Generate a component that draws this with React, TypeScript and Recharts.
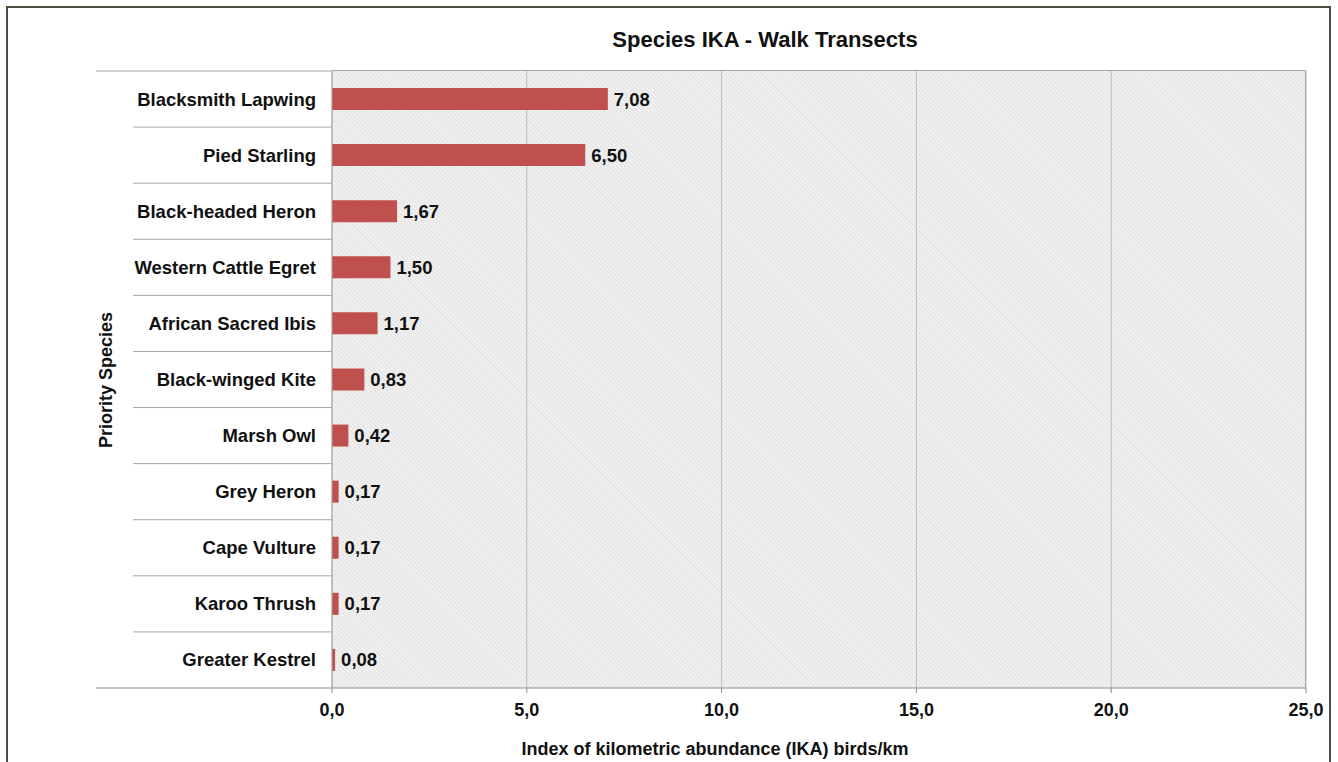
import * as React from "react";
import { BarChart, Bar, XAxis, YAxis, CartesianGrid, LabelList } from "recharts";

const species = [
  "Blacksmith Lapwing",
  "Pied Starling",
  "Black-headed Heron",
  "Western Cattle Egret",
  "African Sacred Ibis",
  "Black-winged Kite",
  "Marsh Owl",
  "Grey Heron",
  "Cape Vulture",
  "Karoo Thrush",
  "Greater Kestrel",
];
const ika = [7.08, 6.5, 1.67, 1.5, 1.17, 0.83, 0.42, 0.17, 0.17, 0.17, 0.08];
const xTicks = [0, 5, 10, 15, 20, 25];

const data = species.map((name, i) => ({ name, ika: ika[i] }));

const FONT = '"Liberation Sans", Arial, sans-serif';
const comma = (v: number, d: number) => v.toFixed(d).replace(".", ",");

// plot band size: 617px height / 11 categories
const BAND = 617 / species.length;

const SpeciesTick = (props: any) => {
  const { y, payload, index } = props;
  const last = index === species.length - 1;
  return (
    <g>
      {index === 0 && (
        <line x1={96} x2={332} y1={y - BAND / 2} y2={y - BAND / 2} stroke="#a6a6a6" />
      )}
      {!last && (
        <line x1={133} x2={332} y1={y + BAND / 2} y2={y + BAND / 2} stroke="#a6a6a6" />
      )}
      {last && (
        <line x1={96} x2={332} y1={y + BAND / 2} y2={y + BAND / 2} stroke="#8c8c8c" />
      )}
      <text
        x={316}
        y={y}
        dy={6.5}
        textAnchor="end"
        fontFamily={FONT}
        fontWeight="bold"
        fontSize={18.5}
        fill="#111"
      >
        {payload.value}
      </text>
    </g>
  );
};

export default function App() {
  return (
    <div style={{ position: "absolute", left: 0, top: 0, width: 1338, height: 762, background: "#fff", overflow: "hidden" }}>
      <svg width={0} height={0} style={{ position: "absolute" }}>
        <defs>
          <pattern id="hatch" width={3} height={3} patternUnits="userSpaceOnUse" patternTransform="rotate(-45)">
            <rect width={3} height={3} fill="#f1f1f1" />
            <line x1={0} y1={0} x2={0} y2={3} stroke="#d6d6d6" strokeWidth={1.2} />
          </pattern>
        </defs>
      </svg>
      <div
        style={{
          position: "absolute",
          left: 6,
          top: 6,
          width: 1325,
          height: 780,
          border: "2px solid #46503f",
          boxSizing: "border-box",
        }}
      />
      <div style={{ position: "absolute", left: 0, top: 0 }}>
        <BarChart
          width={1338}
          height={762}
          data={data}
          layout="vertical"
          margin={{ top: 71, right: 32, bottom: 44, left: 96 }}
          barSize={22}
        >
          <CartesianGrid
            horizontal={false}
            vertical={true}
            stroke="#bdbdbd"
            fill="url(#hatch)"
            fillOpacity={1}
          />
          <XAxis
            type="number"
            domain={[0, 25]}
            ticks={xTicks}
            height={30}
            tickFormatter={(v: number) => comma(v, 1)}
            axisLine={{ stroke: "#8c8c8c" }}
            tickLine={{ stroke: "#8c8c8c" }}
            tickSize={5}
            tickMargin={10}
            tick={{ fontFamily: FONT, fontWeight: "bold", fontSize: 18, fill: "#111" }}
          />
          <YAxis
            type="category"
            dataKey="name"
            width={236}
            axisLine={{ stroke: "#a6a6a6" }}
            tickLine={false}
            interval={0}
            tick={<SpeciesTick />}
          />
          <Bar dataKey="ika" fill="#c0504d" isAnimationActive={false}>
            <LabelList
              dataKey="ika"
              position="right"
              offset={6}
              formatter={(v: any) => comma(Number(v), 2)}
              style={{ fontFamily: FONT, fontWeight: "bold", fontSize: 18.5, fill: "#111" }}
            />
          </Bar>
        </BarChart>
      </div>
      {/* right and top border of plot area */}
      <div style={{ position: "absolute", left: 1305, top: 71, width: 1, height: 617, background: "#a6a6a6" }} />
      <div style={{ position: "absolute", left: 332, top: 70, width: 974, height: 1, background: "#a6a6a6" }} />
      <div
        style={{
          position: "absolute",
          left: 515,
          top: 27,
          width: 500,
          textAlign: "center",
          fontFamily: FONT,
          fontWeight: "bold",
          fontSize: 22,
          color: "#111",
        }}
      >
        Species IKA - Walk Transects
      </div>
      <div
        style={{
          position: "absolute",
          left: 415,
          top: 739,
          width: 600,
          textAlign: "center",
          fontFamily: FONT,
          fontWeight: "bold",
          fontSize: 18,
          color: "#111",
        }}
      >
        Index of kilometric abundance (IKA) birds/km
      </div>
      <div
        style={{
          position: "absolute",
          left: 106 - 150,
          top: 380 - 11,
          width: 300,
          height: 22,
          lineHeight: "22px",
          textAlign: "center",
          transform: "rotate(-90deg)",
          fontFamily: FONT,
          fontWeight: "bold",
          fontSize: 18,
          color: "#111",
        }}
      >
        Priority Species
      </div>
    </div>
  );
}
